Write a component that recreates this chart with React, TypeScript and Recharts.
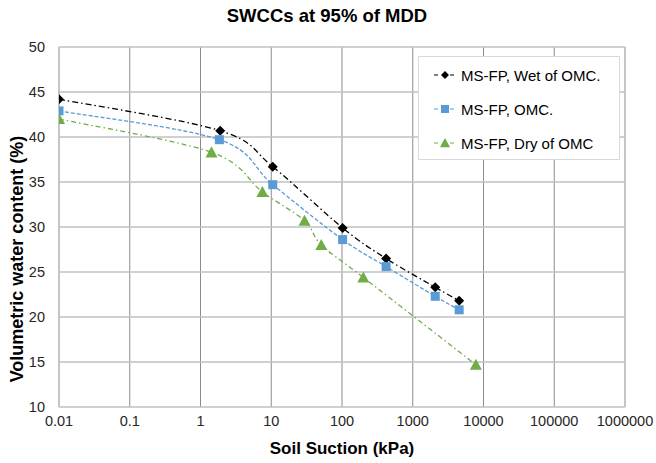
import { CartesianGrid, Label, Legend, Line, LineChart, XAxis, YAxis } from "recharts";

const wetSuction = [0.01, 1.9, 10.5, 102, 420, 2080, 4530];
const wetWater = [44.2, 40.7, 36.7, 29.9, 26.5, 23.3, 21.8];
const omcSuction = [0.01, 1.85, 10.5, 102, 420, 2080, 4530];
const omcWater = [42.9, 39.7, 34.7, 28.6, 25.6, 22.3, 20.8];
const drySuction = [0.01, 1.43, 7.5, 29.5, 51, 200, 7800];
const dryWater = [42.0, 38.3, 33.9, 30.7, 28.0, 24.4, 14.7];

const xTicks = [0.01, 0.1, 1, 10, 100, 1000, 10000, 100000, 1000000];
const yTicks = [10, 15, 20, 25, 30, 35, 40, 45, 50];

const toRows = (xs: number[], ys: number[]) => xs.map((x, i) => ({ x, y: ys[i] }));

const wetData = toRows(wetSuction, wetWater);
const omcData = toRows(omcSuction, omcWater);
const dryData = toRows(drySuction, dryWater);

const BLACK = "#000000";
const BLUE = "#5B9BD5";
const GREEN = "#70AD47";

const font = "'Liberation Sans', Arial, sans-serif";

// spreadsheet-style smoothed line (bezier through points, 1/6 tangents)
const smoothCurve = (context: any) => {
  let pts: number[][] = [];
  return {
    areaStart() {},
    areaEnd() {},
    lineStart() {
      pts = [];
    },
    point(x: number, y: number) {
      pts.push([+x, +y]);
    },
    lineEnd() {
      if (!pts.length) return;
      context.moveTo(pts[0][0], pts[0][1]);
      for (let i = 0; i < pts.length - 1; i++) {
        const p0 = pts[i - 1] || pts[i];
        const p1 = pts[i];
        const p2 = pts[i + 1];
        const p3 = pts[i + 2] || p2;
        context.bezierCurveTo(
          p1[0] + (p2[0] - p0[0]) / 6,
          p1[1] + (p2[1] - p0[1]) / 6,
          p2[0] - (p3[0] - p1[0]) / 6,
          p2[1] - (p3[1] - p1[1]) / 6,
          p2[0],
          p2[1]
        );
      }
    },
  };
};

function Diamond({ cx, cy, size = 5 }: { cx: number; cy: number; size?: number }) {
  return (
    <path
      d={`M${cx},${cy - size} L${cx + size},${cy} L${cx},${cy + size} L${cx - size},${cy} Z`}
      fill={BLACK}
    />
  );
}

function Square({ cx, cy, size = 4.5 }: { cx: number; cy: number; size?: number }) {
  return <rect x={cx - size} y={cy - size} width={size * 2} height={size * 2} fill={BLUE} />;
}

function Triangle({ cx, cy, size = 6 }: { cx: number; cy: number; size?: number }) {
  return (
    <path
      d={`M${cx},${cy - size} L${cx + size},${cy + size * 0.85} L${cx - size},${cy + size * 0.85} Z`}
      fill={GREEN}
    />
  );
}

const series = [
  { name: "MS-FP, Wet of OMC.", color: BLACK, dash: "6 3 1.5 3", marker: Diamond },
  { name: "MS-FP, OMC.", color: BLUE, dash: "4 2", marker: Square },
  { name: "MS-FP, Dry of OMC", color: GREEN, dash: "5 3 1.5 3", marker: Triangle },
];

function LegendBox() {
  return (
    <div
      style={{
        border: "1px solid #d9d9d9",
        background: "#fff",
        boxSizing: "border-box",
        width: 202,
        height: 104,
        paddingTop: 1,
        fontFamily: font,
        fontSize: 15,
        color: "#000",
      }}
    >
      {series.map((s) => {
        const M = s.marker;
        return (
          <div key={s.name} style={{ height: 34, display: "flex", alignItems: "center" }}>
            <svg width={24} height={14} style={{ marginLeft: 14, marginRight: 4 }}>
              <line x1={0} y1={7} x2={24} y2={7} stroke={s.color} strokeWidth={1.2} strokeDasharray="4 4" strokeDashoffset={-1} />
              <M cx={12} cy={7} size={s.marker === Triangle ? 5 : 4} />
            </svg>
            <span>{s.name}</span>
          </div>
        );
      })}
    </div>
  );
}

export default function App() {
  return (
    <div
      style={{
        position: "absolute",
        left: 0,
        top: 0,
        width: 656,
        height: 463,
        background: "#fff",
        fontFamily: font,
      }}
    >
      <div
        style={{
          position: "absolute",
          left: 0,
          width: 654,
          top: 5,
          textAlign: "center",
          fontSize: 18.5,
          fontWeight: "bold",
          color: "#000",
        }}
      >
        SWCCs at 95% of MDD
      </div>
      <LineChart width={656} height={463} margin={{ top: 47, right: 31, bottom: 0, left: 0 }}>
        <CartesianGrid horizontal={false} stroke="#8c8c8c" strokeWidth={1} />
        <CartesianGrid vertical={false} stroke="#c0c0c0" strokeWidth={1.6} />
        <XAxis
          dataKey="x"
          type="number"
          scale="log"
          domain={[0.01, 1000000]}
          ticks={xTicks}
          allowDataOverflow
          tickFormatter={(v: number) => String(v)}
          axisLine={false}
          tickLine={false}
          tickMargin={3}
          height={56}
          tick={{ fill: "#262626", fontSize: 14.5, fontFamily: font }}
        >
          <Label
            content={() => (
              <text x={342} y={454} textAnchor="middle" fontSize={17} fontWeight="bold" fontFamily={font} fill="#000">
                Soil Suction (kPa)
              </text>
            )}
          />
        </XAxis>
        <YAxis
          type="number"
          domain={[10, 50]}
          ticks={yTicks}
          axisLine={false}
          tickLine={false}
          tickMargin={8}
          width={59}
          tick={{ fill: "#262626", fontSize: 14.5, fontFamily: font }}
        >
          <Label
            content={() => (
              <text
                transform="rotate(-90)"
                x={-259}
                y={23}
                textAnchor="middle"
                fontSize={18}
                fontWeight="bold"
                fontFamily={font}
                fill="#000"
              >
                Volumetric water content (%)
              </text>
            )}
          />
        </YAxis>
        <Legend
          layout="horizontal"
          verticalAlign="middle"
          align="center"
          content={() => <LegendBox />}
          wrapperStyle={{ position: "absolute", left: 418, top: 56, width: 202, height: 104 }}
        />
        <Line
          data={wetData}
          dataKey="y"
          name={series[0].name}
          type={smoothCurve as any}
          stroke={BLACK}
          strokeWidth={1.3}
          strokeDasharray={series[0].dash}
          dot={(p: any) => <Diamond key={p.index} cx={p.cx} cy={p.cy} />}
          activeDot={false}
          isAnimationActive={false}
        />
        <Line
          data={omcData}
          dataKey="y"
          name={series[1].name}
          type={smoothCurve as any}
          stroke={BLUE}
          strokeWidth={1.3}
          strokeDasharray={series[1].dash}
          dot={(p: any) => <Square key={p.index} cx={p.cx} cy={p.cy} />}
          activeDot={false}
          isAnimationActive={false}
        />
        <Line
          data={dryData}
          dataKey="y"
          name={series[2].name}
          type={smoothCurve as any}
          stroke={GREEN}
          strokeWidth={1.3}
          strokeDasharray={series[2].dash}
          dot={(p: any) => <Triangle key={p.index} cx={p.cx} cy={p.cy} />}
          activeDot={false}
          isAnimationActive={false}
        />
      </LineChart>
    </div>
  );
}
